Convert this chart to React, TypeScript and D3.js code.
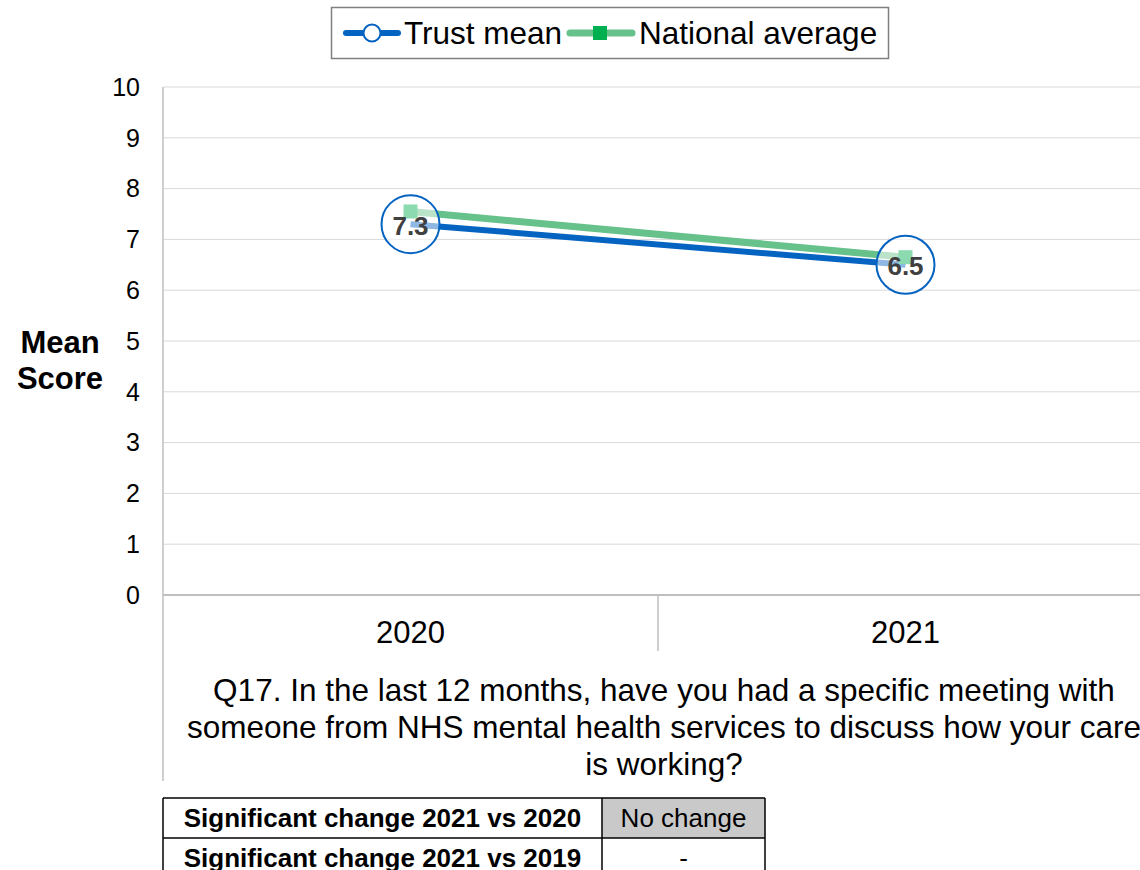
import React, { useEffect, useRef } from "react";
import * as d3 from "d3";

const categories = ["2020", "2021"];
const trustMean = [7.3, 6.5];
const nationalAverage = [7.55, 6.65];
const yTicks = [0, 1, 2, 3, 4, 5, 6, 7, 8, 9, 10];
const questionLines = [
  "Q17. In the last 12 months, have you had a specific meeting with",
  "someone from NHS mental health services to discuss how your care",
  "is working?",
];
const tableRows = [
  ["Significant change 2021 vs 2020", "No change"],
  ["Significant change 2021 vs 2019", "-"],
];

export default function App() {
  const ref = useRef<SVGSVGElement>(null);
  useEffect(() => {
    const svg = d3.select(ref.current);
    svg.selectAll("*").remove();
    const W = 1140, H = 870;
    const left = 163, right = 1153, top = 87, bottom = 595;
    const font = "Liberation Sans, Arial, sans-serif";

    const x = d3.scaleBand().domain(categories).range([left, right]).padding(0);
    const y = d3.scaleLinear().domain([0, 10]).range([bottom, top]);
    const cx = (c: string) => (x(c) as number) + x.bandwidth() / 2;

    svg.append("rect").attr("width", W).attr("height", H).attr("fill", "#fff");

    // gridlines
    svg.append("g").selectAll("line").data(yTicks.filter(t => t > 0)).join("line")
      .attr("x1", left).attr("x2", right).attr("y1", d => y(d)).attr("y2", d => y(d))
      .attr("stroke", "#D9D9D9").attr("stroke-width", 1);

    // axes lines
    svg.append("line").attr("x1", left).attr("x2", right).attr("y1", y(0)).attr("y2", y(0))
      .attr("stroke", "#BFBFBF").attr("stroke-width", 2);
    svg.append("line").attr("x1", left).attr("x2", left).attr("y1", top).attr("y2", 781)
      .attr("stroke", "#BFBFBF").attr("stroke-width", 1.5);
    // category separator ticks
    svg.append("g").selectAll("line").data(categories.slice(1)).join("line")
      .attr("x1", d => x(d) as number).attr("x2", d => x(d) as number)
      .attr("y1", y(0)).attr("y2", 651).attr("stroke", "#BFBFBF").attr("stroke-width", 1.5);

    // y tick labels
    svg.append("g").selectAll("text").data(yTicks).join("text")
      .attr("x", 140).attr("y", d => y(d)).attr("dy", "0.35em").attr("text-anchor", "end")
      .attr("font-family", font).attr("font-size", 25).attr("fill", "#000").text(d => d);

    // y title
    const yt = svg.append("text").attr("text-anchor", "middle").attr("font-family", font)
      .attr("font-size", 31).attr("font-weight", "bold").attr("fill", "#000");
    yt.append("tspan").attr("x", 60).attr("y", 353).text("Mean");
    yt.append("tspan").attr("x", 60).attr("y", 389).text("Score");

    // x labels
    svg.append("g").selectAll("text").data(categories).join("text")
      .attr("x", d => cx(d)).attr("y", 643).attr("text-anchor", "middle")
      .attr("font-family", font).attr("font-size", 31).attr("fill", "#000").text(d => d);

    // question
    svg.append("g").selectAll("text").data(questionLines).join("text")
      .attr("x", 664).attr("y", (d, i) => 701 + i * 37).attr("text-anchor", "middle")
      .attr("font-family", font).attr("font-size", 31.5).attr("fill", "#000").text(d => d);

    const line = d3.line<number>().x((d, i) => cx(categories[i])).y(d => y(d));

    // trust line
    svg.append("path").datum(trustMean).attr("d", line).attr("fill", "none")
      .attr("stroke", "#0563C1").attr("stroke-width", 6);
    // national line
    svg.append("path").datum(nationalAverage).attr("d", line).attr("fill", "none")
      .attr("stroke", "#66C18B").attr("stroke-width", 7);
    svg.append("g").selectAll("rect").data(nationalAverage).join("rect")
      .attr("x", (d, i) => cx(categories[i]) - 7).attr("y", d => y(d) - 7)
      .attr("width", 14).attr("height", 14).attr("fill", "#00B050");

    // trust markers
    svg.append("g").selectAll("circle").data(trustMean).join("circle")
      .attr("cx", (d, i) => cx(categories[i])).attr("cy", d => y(d)).attr("r", 29)
      .attr("fill", "#fff").attr("fill-opacity", 0.55).attr("stroke", "#0563C1").attr("stroke-width", 2);
    svg.append("g").selectAll("text").data(trustMean).join("text")
      .attr("x", (d, i) => cx(categories[i])).attr("y", d => y(d) + 1).attr("dy", "0.36em")
      .attr("text-anchor", "middle").attr("font-family", font).attr("font-size", 26)
      .attr("font-weight", "bold").attr("fill", "#404040").text(d => d.toFixed(1));

    // legend
    const lg = svg.append("g");
    lg.append("rect").attr("x", 331.5).attr("y", 7.5).attr("width", 557).attr("height", 51)
      .attr("fill", "#fff").attr("stroke", "#808080").attr("stroke-width", 1.5);
    lg.append("line").attr("x1", 346).attr("x2", 398).attr("y1", 33).attr("y2", 33)
      .attr("stroke", "#0563C1").attr("stroke-width", 6).attr("stroke-linecap", "round");
    lg.append("circle").attr("cx", 372).attr("cy", 33).attr("r", 8.5).attr("fill", "#fff")
      .attr("stroke", "#0563C1").attr("stroke-width", 2);
    lg.append("text").attr("x", 404).attr("y", 33).attr("dy", "0.36em").attr("font-family", font)
      .attr("font-size", 31.5).attr("fill", "#000").text("Trust mean");
    lg.append("line").attr("x1", 570).attr("x2", 632).attr("y1", 33).attr("y2", 33)
      .attr("stroke", "#66C18B").attr("stroke-width", 7).attr("stroke-linecap", "round");
    lg.append("rect").attr("x", 593).attr("y", 26).attr("width", 14).attr("height", 14).attr("fill", "#00B050");
    lg.append("text").attr("x", 639).attr("y", 33).attr("dy", "0.36em").attr("font-family", font)
      .attr("font-size", 31.5).attr("fill", "#000").text("National average");

    // table
    const tx = [163, 602, 765];
    const rowTop = 798, rowH = 40;
    const tg = svg.append("g");
    tableRows.forEach((row, r) => {
      const yy = rowTop + r * rowH;
      tg.append("rect").attr("x", tx[1]).attr("y", yy).attr("width", tx[2] - tx[1]).attr("height", rowH)
        .attr("fill", r === 0 ? "#C9C9C9" : "#fff");
      tg.append("text").attr("x", (tx[0] + tx[1]) / 2).attr("y", yy + rowH / 2).attr("dy", "0.36em")
        .attr("text-anchor", "middle").attr("font-family", font).attr("font-size", 26)
        .attr("font-weight", "bold").attr("fill", "#000").text(row[0]);
      tg.append("text").attr("x", (tx[1] + tx[2]) / 2).attr("y", yy + rowH / 2).attr("dy", "0.36em")
        .attr("text-anchor", "middle").attr("font-family", font).attr("font-size", 26)
        .attr("fill", "#000").text(row[1]);
    });
    [rowTop, rowTop + rowH].forEach(yy => {
      tg.append("line").attr("x1", tx[0]).attr("x2", tx[2]).attr("y1", yy).attr("y2", yy)
        .attr("stroke", "#000").attr("stroke-width", 1.5);
    });
    tx.forEach(xx => {
      tg.append("line").attr("x1", xx).attr("x2", xx).attr("y1", rowTop).attr("y2", H)
        .attr("stroke", "#000").attr("stroke-width", 1.5);
    });
  }, []);
  return (
    <svg ref={ref} width={1140} height={870}
      style={{ position: "absolute", left: 0, top: 0, display: "block" }} />
  );
}
